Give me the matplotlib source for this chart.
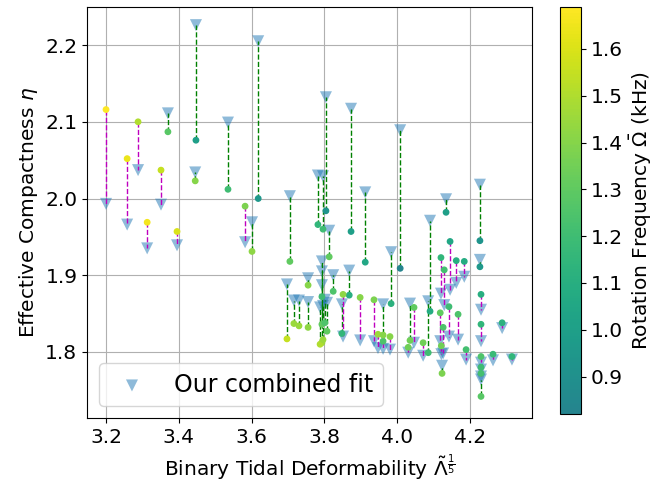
import numpy as np
import matplotlib.pyplot as plt
from matplotlib.colors import ListedColormap

# binary tidal deformability Lambda^(1/5) of each configuration
lam = [3.200, 3.258, 3.288, 3.313, 3.351, 3.370, 3.395, 3.447, 3.445, 3.535,
       3.618, 3.582, 3.601, 3.705, 3.697, 3.782, 3.804, 3.796, 3.813, 3.873,
       3.912, 3.983, 4.008, 4.134, 4.090, 4.227, 4.227, 4.120, 4.129, 4.145,
       4.162, 4.184, 4.118, 4.126, 4.142, 4.167, 4.230, 4.230, 4.288, 4.189,
       4.263, 4.315, 4.230, 4.230, 4.230, 4.230, 4.123, 4.121, 3.716, 3.730,
       3.755, 3.755, 3.793, 3.793, 3.793, 3.788, 3.807, 3.801, 3.796, 3.824,
       3.868, 3.848, 3.851, 3.898, 3.936, 3.961, 3.947, 3.961, 3.980, 4.035,
       4.046, 4.030, 4.071, 4.085]
# effective compactness from the simulations
eta_data = [2.116, 2.052, 2.100, 1.969, 2.037, 2.087, 1.957, 2.076, 2.023, 2.012,
            2.000, 1.990, 1.931, 1.918, 1.817, 1.966, 1.984, 1.960, 1.924, 1.957,
            1.917, 1.863, 1.909, 1.982, 1.853, 1.945, 1.911, 1.923, 1.907, 1.944,
            1.919, 1.918, 1.851, 1.832, 1.859, 1.849, 1.875, 1.836, 1.838, 1.803,
            1.797, 1.794, 1.794, 1.742, 1.780, 1.772, 1.772, 1.808, 1.837, 1.834,
            1.832, 1.887, 1.872, 1.836, 1.812, 1.810, 1.827, 1.838, 1.816, 1.879,
            1.874, 1.824, 1.875, 1.871, 1.868, 1.814, 1.823, 1.822, 1.820, 1.815,
            1.858, 1.806, 1.812, 1.799]
# effective compactness from the combined fit
eta_fit = [1.993, 1.966, 2.037, 1.935, 1.992, 2.111, 1.939, 2.226, 2.034, 2.099,
           2.205, 1.943, 1.969, 2.003, 1.888, 2.030, 2.132, 2.029, 1.958, 2.117,
           2.008, 1.930, 2.089, 1.999, 1.971, 2.018, 1.920, 1.876, 1.861, 1.881,
           1.890, 1.898, 1.814, 1.798, 1.820, 1.816, 1.855, 1.814, 1.831, 1.790,
           1.789, 1.790, 1.786, 1.764, 1.777, 1.768, 1.782, 1.797, 1.867, 1.867,
           1.865, 1.896, 1.918, 1.905, 1.887, 1.858, 1.864, 1.868, 1.860, 1.900,
           1.906, 1.862, 1.820, 1.815, 1.814, 1.862, 1.805, 1.804, 1.803, 1.863,
           1.812, 1.799, 1.795, 1.866]
# rotation frequency (kHz)
omega = [1.69, 1.64, 1.50, 1.66, 1.55, 1.28, 1.60, 1.00, 1.40, 1.20,
         0.95, 1.38, 1.42, 1.30, 1.55, 1.15, 0.92, 1.20, 1.30, 1.00,
         1.05, 1.12, 0.82, 1.00, 1.08, 0.93, 0.95, 1.15, 1.22, 1.05,
         1.10, 1.08, 1.30, 1.25, 1.20, 1.25, 1.10, 1.15, 1.12, 1.22,
         1.18, 1.15, 1.25, 1.28, 1.20, 1.22, 1.38, 1.35, 1.45, 1.45,
         1.42, 1.40, 1.20, 1.30, 1.45, 1.50, 1.30, 1.25, 1.45, 1.25,
         1.10, 1.15, 1.42, 1.40, 1.38, 1.25, 1.45, 1.40, 1.40, 1.35,
         1.30, 1.35, 1.35, 1.20]

plt.rcParams['font.size'] = 14.5
cmap = ListedColormap(plt.cm.viridis(np.linspace(0.45, 1.0, 256)))

fig = plt.figure(figsize=(6.7, 4.82), dpi=100)
ax = fig.add_axes([0.130, 0.133, 0.664, 0.853])
cax = fig.add_axes([0.836, 0.141, 0.031, 0.845])

ax.scatter(lam, eta_fit, marker='v', s=75, color='tab:blue', alpha=0.5,
           edgecolors='none', label='Our combined fit', zorder=3)
for x, yd, yf in zip(lam, eta_data, eta_fit):
    col = 'g' if yf > yd else 'm'
    ax.plot([x, x], [yd, yf], '--', color=col, lw=1, zorder=4)
sc = ax.scatter(lam, eta_data, c=omega, cmap=cmap, s=15, zorder=5)

ax.set_xlim(3.148, 4.37)
ax.set_ylim(1.714, 2.25)
ax.set_xticks([3.2, 3.4, 3.6, 3.8, 4.0, 4.2])
ax.set_yticks([1.8, 1.9, 2.0, 2.1, 2.2])
ax.grid(True)
ax.set_axisbelow(True)
ax.set_xlabel(r'Binary Tidal Deformability $\tilde{\Lambda}^{\frac{1}{5}}$')
ax.set_ylabel(r'Effective Compactness $\eta$')
ax.legend(loc='lower left', fontsize=17)

cb = fig.colorbar(sc, cax=cax)
cb.set_label(r'Rotation Frequency $\bar{\Omega}$ (kHz)')

fig.savefig('out.png', dpi=100)
